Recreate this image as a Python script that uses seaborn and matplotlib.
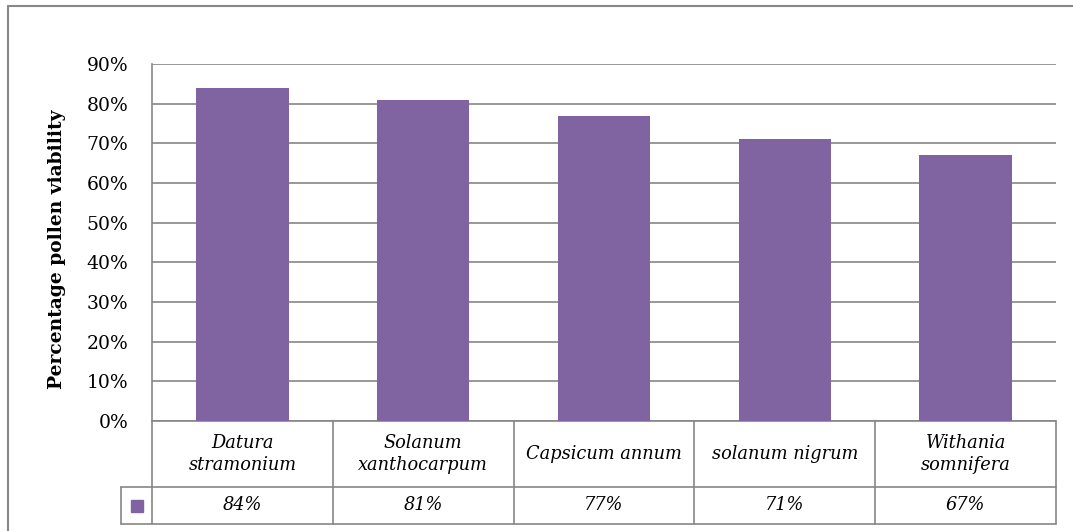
import matplotlib
matplotlib.use("Agg")
import matplotlib.pyplot as plt
import matplotlib.lines as mlines
import seaborn as sns
import pandas as pd
from matplotlib.ticker import PercentFormatter

categories = ["Datura\nstramonium", "Solanum\nxanthocarpum", "Capsicum annum",
              "solanum nigrum", "Withania\nsomnifera"]
values = [0.84, 0.81, 0.77, 0.71, 0.67]
value_labels = ["84%", "81%", "77%", "71%", "67%"]
yticks = [0, 0.1, 0.2, 0.3, 0.4, 0.5, 0.6, 0.7, 0.8, 0.9]

sns.set_theme(style="white")
plt.rcParams['font.family'] = ['DejaVu Serif']
plt.rcParams['text.color'] = 'black'
plt.rcParams['axes.labelcolor'] = 'black'

W, H = 1073, 531
fig = plt.figure(figsize=(W / 100, H / 100), dpi=100)
L, R, T, B = 152, 1056, 64, 421
ax = fig.add_axes([L / W, 1 - B / H, (R - L) / W, (B - T) / H])

df = pd.DataFrame({"cat": categories, "val": values})
bar_color = "#8064A2"
sns.barplot(data=df, x="cat", y="val", color=bar_color, width=0.51, ax=ax,
            saturation=1, zorder=3, linewidth=0)

grid_c = "#868686"
ax.set_ylim(0, 0.9)
ax.set_xlim(-0.5, len(categories) - 0.5)
ax.set_yticks(yticks)
ax.yaxis.set_major_formatter(PercentFormatter(1.0, decimals=0))
ax.grid(axis="y", color=grid_c, lw=1.2, zorder=0)
ax.set_axisbelow(True)
for s in ["top", "right", "bottom"]:
    ax.spines[s].set_visible(False)
ax.spines["left"].set_color(grid_c)
ax.spines["left"].set_linewidth(1.2)
ax.tick_params(axis="y", length=0, pad=17, labelsize=13.5, labelcolor="black")
ax.tick_params(axis="x", length=0, labelbottom=False)
ax.set_xlabel("")
ax.set_ylabel("Percentage pollen viability", fontsize=13.4, fontweight="bold",
              color="black")
ax.yaxis.set_label_coords((66 - L) / (R - L), 0.5 - 7 / (B - T))

# data table under the axis
tr = ax.get_xaxis_transform()
ph = B - T
cw = (R - L) / len(categories)
y0 = 0.0
y1 = -(487 - B) / ph
y2 = -(524 - B) / ph
xl = -0.5 - (L - 121) / cw
xr = len(categories) - 0.5
lkw = dict(color=grid_c, lw=1.2, transform=tr, clip_on=False)

ax.add_line(mlines.Line2D([-0.5, xr], [y0, y0], **lkw))
ax.add_line(mlines.Line2D([xl, xr], [y1, y1], **lkw))
ax.add_line(mlines.Line2D([xl, xr], [y2, y2], **lkw))
ax.add_line(mlines.Line2D([xl, xl], [y1, y2], **lkw))
for i in range(len(categories) + 1):
    ax.add_line(mlines.Line2D([i - 0.5, i - 0.5], [y0, y2], **lkw))

for i, (c, v) in enumerate(zip(categories, value_labels)):
    ax.text(i, (y0 + y1) / 2, c, transform=tr, ha="center", va="center",
            fontsize=12.8, style="italic", linespacing=1.3, color="black")
    ax.text(i, (y1 + y2) / 2, v, transform=tr, ha="center", va="center",
            fontsize=12.8, style="italic", color="black")

# legend key square
ax.plot([(xl + -0.5) / 2], [(y1 + y2) / 2], marker="s", ms=8.5, color=bar_color,
        transform=tr, clip_on=False, ls="none")

# outer chart frame
fc = "#888888"
fig.add_artist(mlines.Line2D([7.5 / W, 7.5 / W], [0, 1 - 5.5 / H], color=fc, lw=1.5,
                             transform=fig.transFigure))
fig.add_artist(mlines.Line2D([7.5 / W, 1], [1 - 5.5 / H, 1 - 5.5 / H], color=fc, lw=1.5,
                             transform=fig.transFigure))

fig.savefig("out.png", dpi=100)
